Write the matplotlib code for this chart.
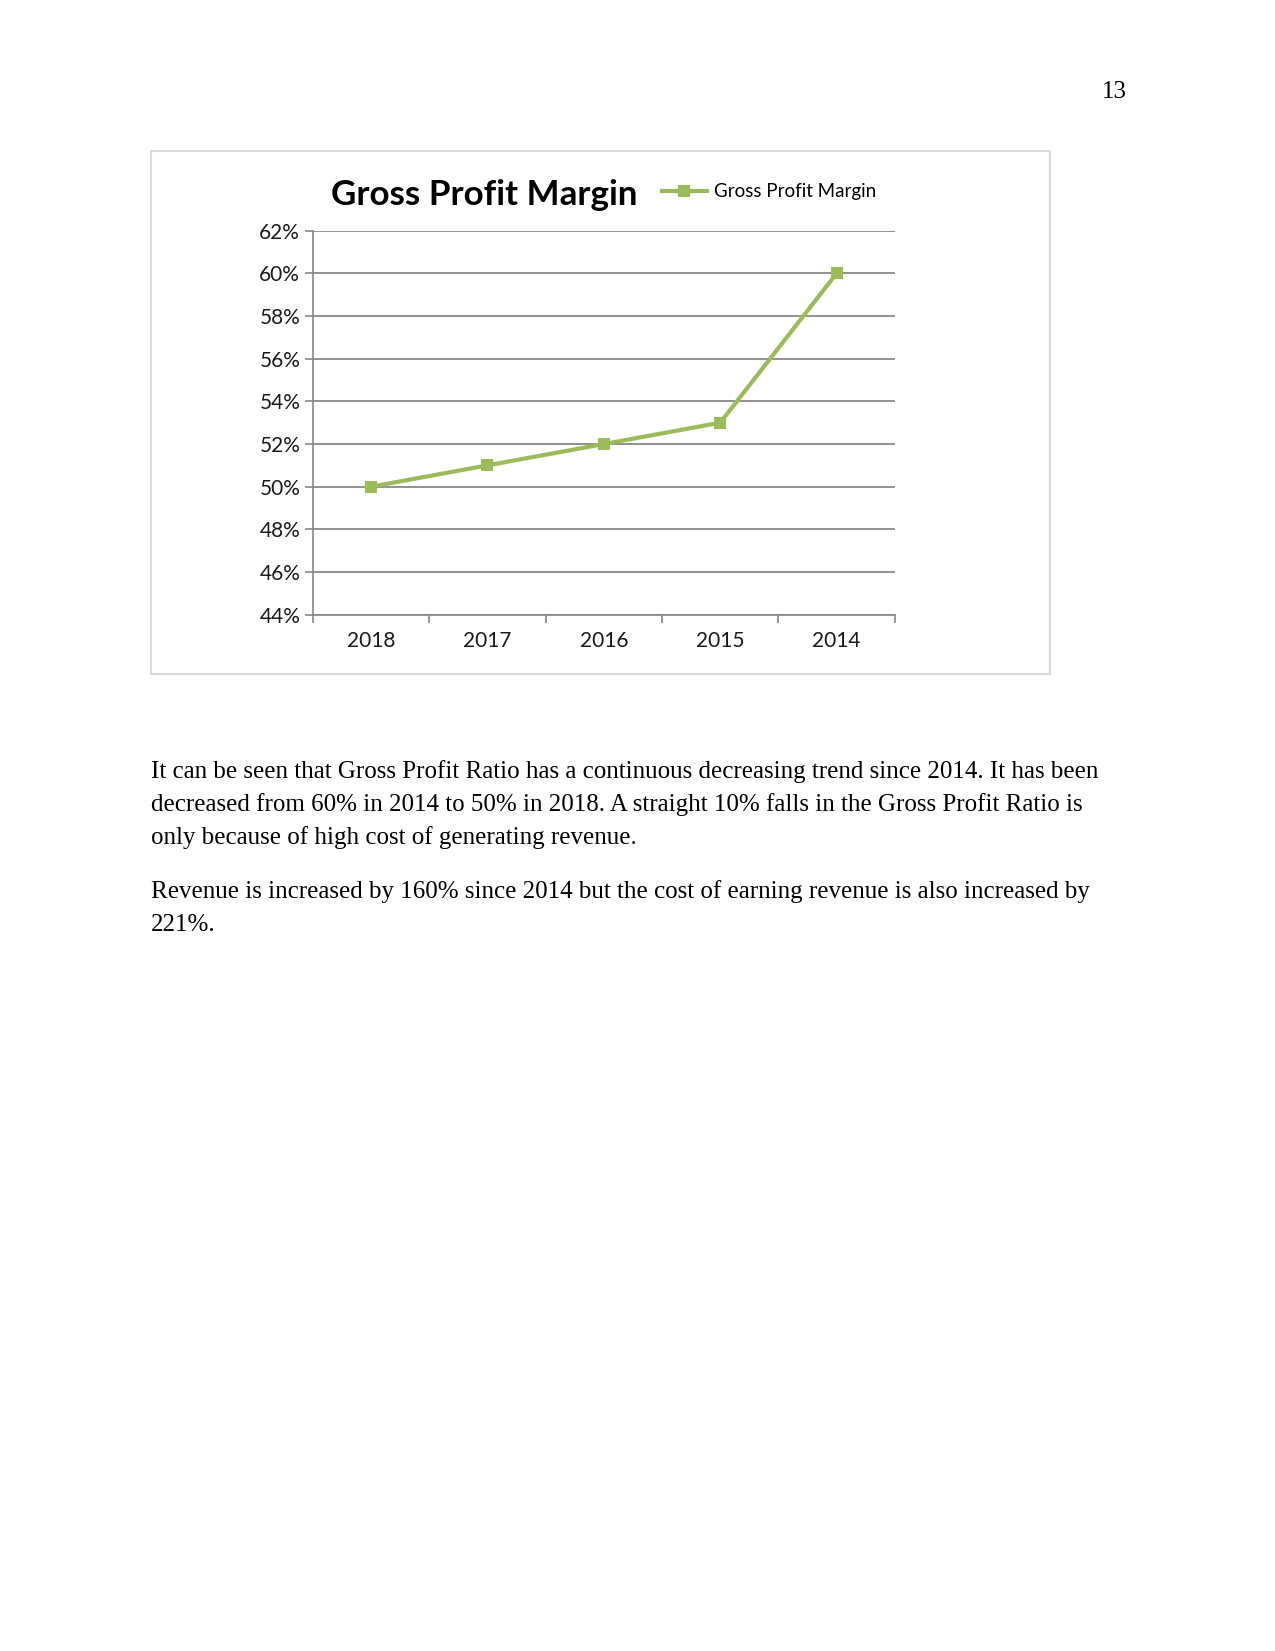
import matplotlib
matplotlib.use("Agg")
import matplotlib.pyplot as plt
from matplotlib.patches import Rectangle
from matplotlib.ticker import FuncFormatter

years = ["2018", "2017", "2016", "2015", "2014"]
margin = [0.50, 0.51, 0.52, 0.53, 0.60]
y_ticks = [0.44, 0.46, 0.48, 0.50, 0.52, 0.54, 0.56, 0.58, 0.60, 0.62]

body_lines = [
    "It can be seen that Gross Profit Ratio has a continuous decreasing trend since 2014. It has been",
    "decreased from 60% in 2014 to 50% in 2018. A straight 10% falls in the Gross Profit Ratio is",
    "only because of high cost of generating revenue.",
]
body_lines2 = [
    "Revenue is increased by 160% since 2014 but the cost of earning revenue is also increased by",
    "221%.",
]

W, H = 1275, 1651
GREEN = "#9BBB59"
GRID = "#868686"


def fx(px):
    return px / W


def fy(py):
    return 1 - py / H


fig = plt.figure(figsize=(W / 150, H / 150), dpi=150)

# chart frame
fig.patches.append(Rectangle((fx(150.6), fy(673.8)), fx(1049.7) - fx(150.6),
                             fy(150.6) - fy(673.8), transform=fig.transFigure,
                             fill=False, edgecolor="#D9D9D9", linewidth=1.0))

ax = fig.add_axes([fx(312.7), fy(614.8), fx(894.9) - fx(312.7), fy(230.6) - fy(614.8)])
x = list(range(len(years)))
ax.plot(x, margin, color=GREEN, linewidth=2.0, marker="s", markersize=5,
        markerfacecolor=GREEN, markeredgecolor=GREEN, label="Gross Profit Margin",
        zorder=3)

ax.set_xlim(-0.5, len(years) - 0.5)
ax.set_ylim(0.44, 0.62)
ax.set_yticks(y_ticks)
ax.yaxis.set_major_formatter(FuncFormatter(lambda v, p: f"{v * 100:.0f}%"))
ax.grid(axis="y", color=GRID, linewidth=0.85)
ax.set_axisbelow(True)

ax.set_xticks([i - 0.5 for i in range(len(years) + 1)])
ax.set_xticklabels([])
ax.set_xticks(x, minor=True)
ax.set_xticklabels(years, minor=True)
ax.tick_params(axis="x", which="major", length=4, width=0.8, color=GRID, direction="out")
ax.tick_params(axis="x", which="minor", length=0, pad=8, labelsize=10)
ax.tick_params(axis="y", length=4, width=0.8, color=GRID, pad=2, labelsize=10)
for lab in ax.get_xticklabels(minor=True) + ax.get_yticklabels():
    lab.set_fontfamily("Lato")
    lab.set_color("#1a1a1a")

for s in ["top", "right"]:
    ax.spines[s].set_visible(False)
for s in ["left", "bottom"]:
    ax.spines[s].set_color(GRID)
    ax.spines[s].set_linewidth(0.8)

fig.text(fx(484), fy(195), "Gross Profit Margin", ha="center", va="center",
         fontsize=16.8, fontweight="bold", family="Lato")

ax.legend(loc="center left", bbox_to_anchor=(fx(662), fy(192)),
          bbox_transform=fig.transFigure, frameon=False, borderpad=0,
          borderaxespad=0, handlelength=2.4, handletextpad=0.4,
          prop={"family": "Lato", "size": 9})

# page number and body text
fig.text(fx(1114), fy(92), "13", ha="center", va="center", fontsize=12,
         family="Liberation Serif")
for i, line in enumerate(body_lines):
    fig.text(fx(150.6), fy(772 + i * 32.7), line, ha="left", va="center",
             fontsize=12, family="Liberation Serif")
for i, line in enumerate(body_lines2):
    fig.text(fx(150.6), fy(892 + i * 32.7), line, ha="left", va="center",
             fontsize=12, family="Liberation Serif")

fig.savefig("out.png", dpi=150)
